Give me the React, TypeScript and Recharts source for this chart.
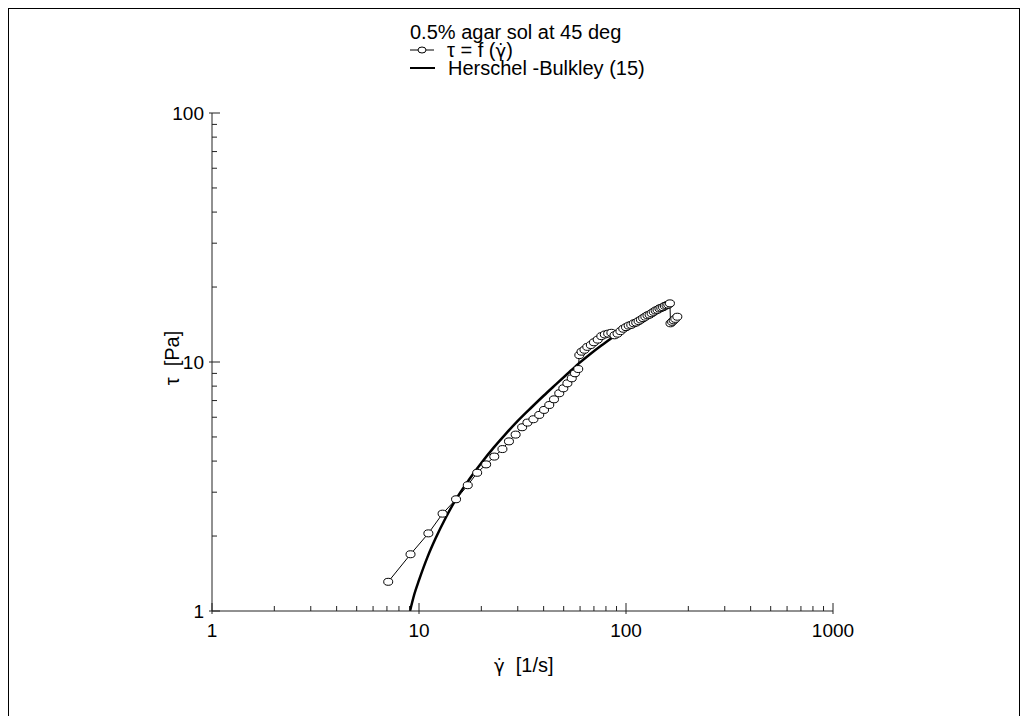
import React from 'react';
import { ComposedChart, Line, XAxis, YAxis } from 'recharts';

// measured flow curve, 0.5% agar sol at 45 deg
const shearRate = [
  7.1, 9.1, 11.1, 13.0, 15.1, 17.2, 19.1, 21.1, 23.1, 25.3, 27.2, 29.3, 31.5, 33.4,
  35.7, 38.1, 40.2, 42.6, 44.9, 47.6, 49.8, 52.1, 54.7, 56.7, 58.8,
  59.5, 61, 63, 65, 67.6, 70, 73, 76, 79, 82, 85,
  88, 91, 94, 97, 100, 103, 106, 109, 112, 115, 118, 121, 124, 127, 130, 133, 136,
  139, 142, 145, 148, 151, 154, 157, 160, 163,
  164, 167, 170, 173, 177,
];
const shearStress = [
  1.31, 1.69, 2.05, 2.46, 2.81, 3.2, 3.59, 3.88, 4.17, 4.47, 4.8, 5.11, 5.47, 5.71,
  5.89, 6.13, 6.42, 6.72, 7.08, 7.49, 7.84, 8.21, 8.6, 9.01, 9.37,
  10.66, 11.0, 11.2, 11.5, 11.7, 12.0, 12.3, 12.7, 12.9, 13.0, 13.1,
  12.8, 13.0, 13.3, 13.6, 13.8, 14.0, 14.1, 14.3, 14.4, 14.6, 14.8, 15.0, 15.2, 15.4, 15.5, 15.7, 15.9,
  16.1, 16.2, 16.4, 16.5, 16.6, 16.8, 16.9, 17.0, 17.2,
  14.3, 14.5, 14.7, 14.9, 15.2,
];

// Herschel-Bulkley fit line
const fitRate = [9.05, 9.5, 10, 11, 12, 13.5, 15, 17.5, 20, 23, 26, 30, 35, 40, 46, 52, 59, 67, 76, 86, 98, 112, 128, 145, 165];
const fitStress = [1.0, 1.17, 1.33, 1.65, 1.95, 2.38, 2.79, 3.38, 3.93, 4.54, 5.1, 5.8, 6.58, 7.32, 8.15, 8.95, 9.85, 10.75, 11.65, 12.55, 13.55, 14.55, 15.55, 16.45, 17.3];

const xMajorTicks = [1, 10, 100, 1000];
const xMinorTicks = [2, 3, 4, 5, 6, 7, 8, 9, 20, 30, 40, 50, 60, 70, 80, 90, 200, 300, 400, 500, 600, 700, 800, 900];
const yMajorTicks = [1, 10, 100];
const yMinorTicks = [2, 3, 4, 5, 6, 7, 8, 9, 20, 30, 40, 50, 60, 70, 80, 90];

const measured = shearRate.map((x, i) => ({ x, y: shearStress[i] }));
const fitted = fitRate.map((x, i) => ({ x, y: fitStress[i] }));

const FONT = '"Liberation Sans", Arial, sans-serif';

function XTick(props: any) {
  const { x, y, payload } = props;
  const major = xMajorTicks.includes(payload.value);
  return (
    <g>
      <line x1={x} x2={x} y1={major ? y + 3 : y} y2={y - (major ? 8 : 5)} stroke="#222" />
      {major && (
        <text x={x} y={y + 26} textAnchor="middle" fontSize={19} fontFamily={FONT} fill="#000">
          {payload.value}
        </text>
      )}
    </g>
  );
}

function YTick(props: any) {
  const { x, y, payload } = props;
  const major = yMajorTicks.includes(payload.value);
  return (
    <g>
      <line x1={major ? x - 3 : x} x2={x + (major ? 8 : 5)} y1={y} y2={y} stroke="#222" />
      {major && (
        <text x={x - 8} y={y + 7} textAnchor="end" fontSize={19} fontFamily={FONT} fill="#000">
          {payload.value}
        </text>
      )}
    </g>
  );
}

function OpenDot(props: any) {
  const { cx, cy, index } = props;
  return <ellipse key={index} cx={cx} cy={cy} rx={4.5} ry={3.5} fill="#fff" stroke="#000" strokeWidth={1} />;
}

export default function App() {
  return (
    <div
      style={{
        position: 'relative',
        boxSizing: 'border-box',
        width: 1012,
        height: 720,
        border: '1px solid #000',
        background: '#fff',
        fontFamily: FONT,
      }}
    >
      <div style={{ position: 'absolute', left: 0, top: 0 }}>
        <ComposedChart width={1000} height={690} margin={{ top: 104, right: 176, bottom: 48, left: 143 }}>
          <XAxis
            dataKey="x"
            type="number"
            scale="log"
            domain={[1, 1000]}
            allowDataOverflow
            ticks={[...xMajorTicks, ...xMinorTicks].sort((a, b) => a - b)}
            interval={0}
            height={40}
            tickSize={0}
            tickMargin={0}
            tickLine={false}
            tick={<XTick />}
            axisLine={{ stroke: '#222' }}
          />
          <YAxis
            dataKey="y"
            type="number"
            scale="log"
            domain={[1, 100]}
            allowDataOverflow
            ticks={[...yMajorTicks, ...yMinorTicks].sort((a, b) => a - b)}
            interval={0}
            width={60}
            tickSize={0}
            tickMargin={0}
            tickLine={false}
            tick={<YTick />}
            axisLine={{ stroke: '#222' }}
          />
          <Line
            data={measured}
            dataKey="y"
            type="linear"
            stroke="#000"
            strokeWidth={1}
            dot={OpenDot}
            activeDot={false}
            isAnimationActive={false}
          />
          <Line
            data={fitted}
            dataKey="y"
            type="monotone"
            stroke="#000"
            strokeWidth={2.5}
            dot={false}
            activeDot={false}
            isAnimationActive={false}
          />
        </ComposedChart>
      </div>
      <svg width={1010} height={710} style={{ position: 'absolute', left: 0, top: 0, pointerEvents: 'none' }}>
        <g fontFamily={FONT} fontSize={20} fill="#000">
          <text x={401} y={30}>0.5% agar sol at 45 deg</text>
          <line x1={401} x2={425} y1={41} y2={41} stroke="#000" strokeWidth={1} />
          <ellipse cx={413} cy={41} rx={4} ry={3} fill="#fff" stroke="#000" />
          <text x={438} y={48}>
            τ = f (<tspan fontFamily='"DejaVu Sans", sans-serif' fontSize={18}>γ̇</tspan>)
          </text>
          <line x1={401} x2={426} y1={59} y2={59} stroke="#000" strokeWidth={2} />
          <text x={439} y={66}>Herschel -Bulkley (15)</text>
          <text x={485} y={663} style={{ whiteSpace: 'pre' }}>
            <tspan fontFamily='"DejaVu Sans", sans-serif' fontSize={18}>γ̇</tspan>  [1/s]
          </text>
          <text
            x={170}
            y={349}
            textAnchor="middle"
            transform="rotate(-90, 170, 349)"
            style={{ whiteSpace: 'pre' }}
          >
            τ  [Pa]
          </text>
        </g>
      </svg>
    </div>
  );
}
